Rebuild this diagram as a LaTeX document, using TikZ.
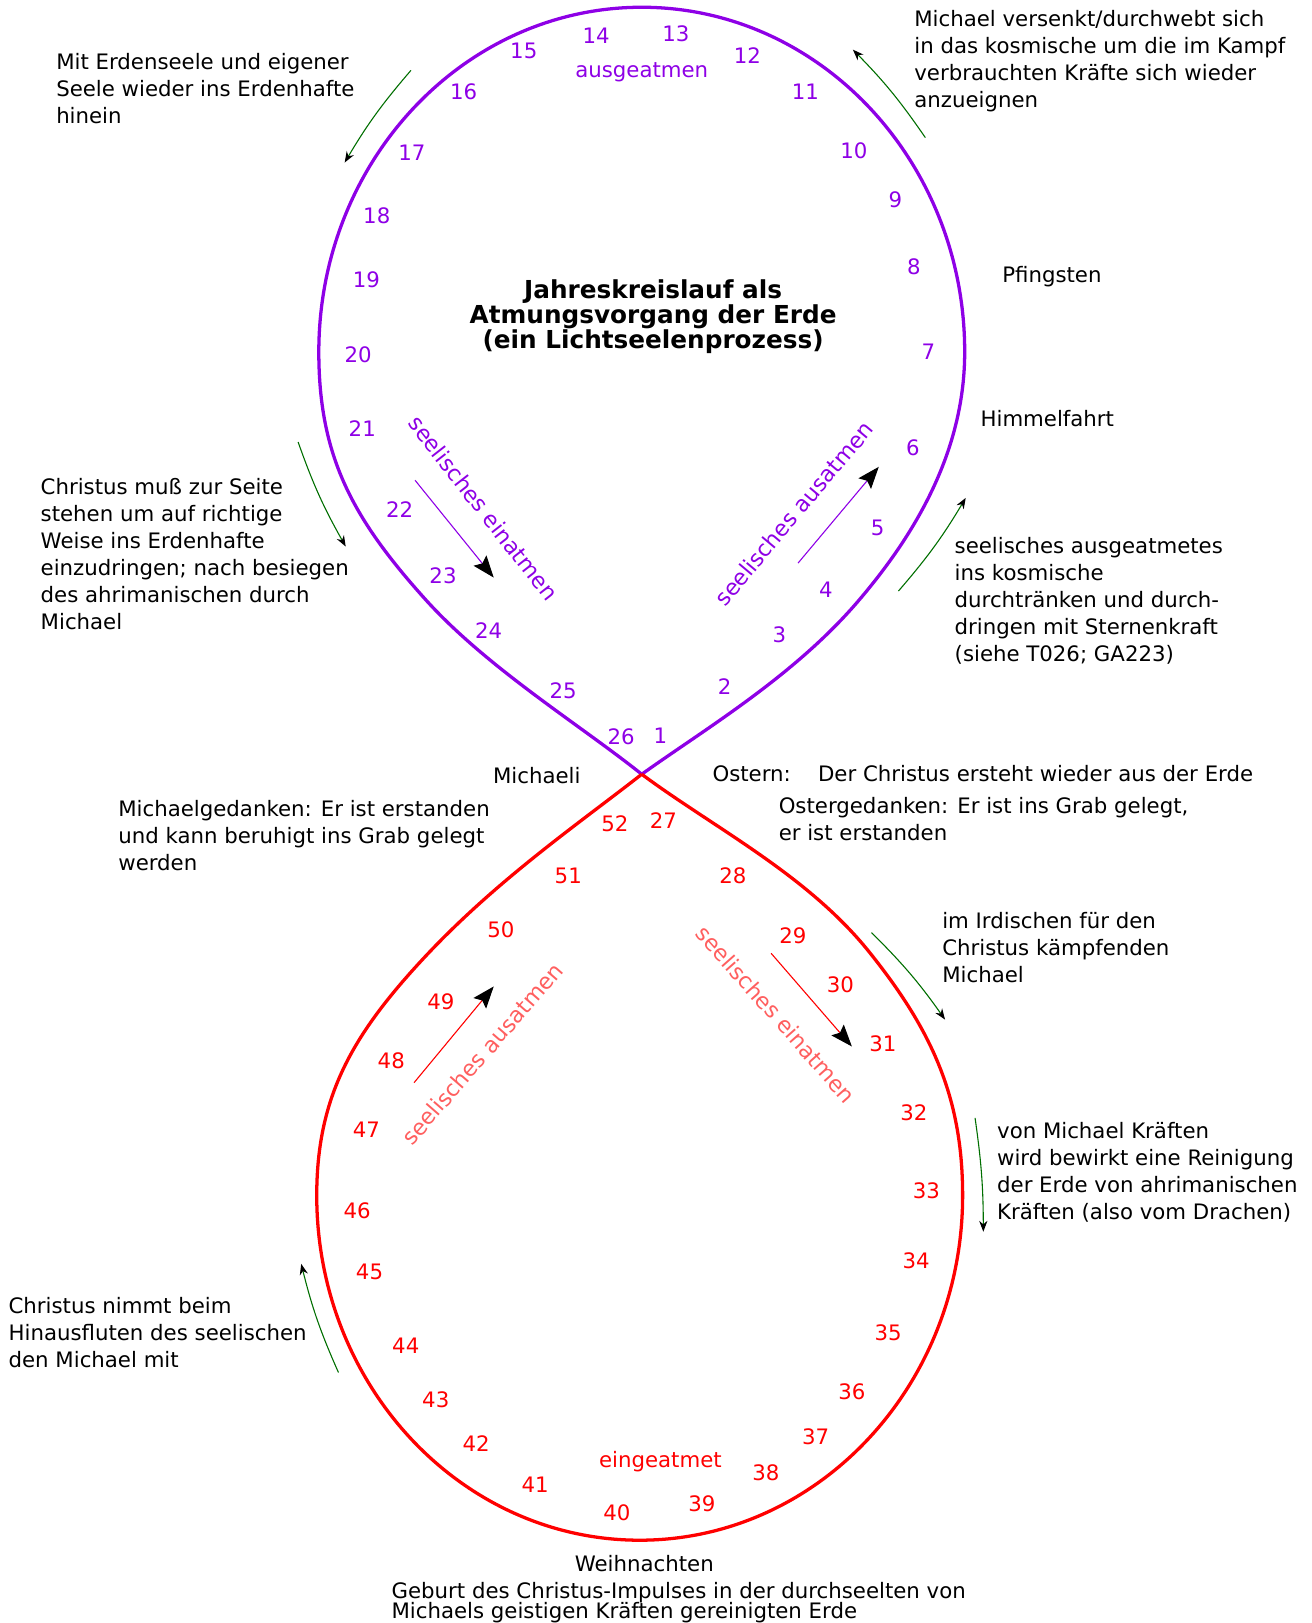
\documentclass[tikz,border=0pt]{standalone}
\usepackage{fontspec}
\setmainfont{DejaVu Sans}
\usetikzlibrary{arrows.meta}
\definecolor{loopviolet}{RGB}{142,0,230}
\definecolor{loopred}{RGB}{255,0,0}
\definecolor{softred}{RGB}{255,95,95}
\definecolor{turngreen}{RGB}{0,110,0}
\newcommand{\notefont}{\fontsize{11.7}{14.8}\selectfont}
\newcommand{\headfont}{\fontsize{13.6}{13.8}\selectfont\bfseries}
\newcommand{\breathfont}{\fontsize{12.2}{14}\selectfont}
\tikzset{
  note/.style={anchor=north west, inner sep=0pt, align=left, font=\notefont},
  daynum/.style={inner sep=0pt, font=\notefont},
  breath/.style={inner sep=0pt, font=\breathfont},
  loopline/.style={line width=1.8pt, line join=round},
  flow/.style={line width=0.6pt, -{Stealth[length=12pt, width=9pt, inset=2pt, color=black]}},
  turn/.style={turngreen, line width=0.6pt, -{Stealth[length=6pt, width=4.5pt, color=black]}}
}
\begin{document}
\begin{tikzpicture}[x=0.02cm, y=-0.02cm]
  \useasboundingbox (0,0) rectangle (1267,1568);
  \coordinate (cross) at (620,748);

  \draw[loopline, loopviolet] (cross) .. controls (680,705) and (766,654) .. (828,582)
    .. controls (890,510) and (932,430) .. (932,340)
    .. controls (932,156) and (792,7) .. (620,7)
    .. controls (448,7) and (308,156) .. (308,340)
    .. controls (308,440) and (340,500) .. (410,578)
    .. controls (470,645) and (560,700) .. (cross);
  \draw[loopline, loopred] (cross) .. controls (690,800) and (780,845) .. (840,920)
    .. controls (900,995) and (930,1060) .. (930,1155)
    .. controls (930,1339) and (790,1488) .. (618,1488)
    .. controls (446,1488) and (306,1339) .. (306,1155)
    .. controls (306,1060) and (340,1000) .. (410,925)
    .. controls (480,850) and (560,795) .. (cross);

  \foreach \n/\x/\y in {1/638/711, 2/700/663, 3/753/613, 4/798/570, 5/848/510,
    6/882/433, 7/897/340, 8/883/258, 9/865/193, 10/825/146, 11/778/89,
    12/722/54, 13/653/33, 14/576/35, 15/506/49, 16/448/89, 17/398/148,
    18/364/208, 19/354/270, 20/346/343, 21/350/414, 22/386/492, 23/428/556,
    24/472/609, 25/544/667, 26/600/712}
    \node[daynum, text=loopviolet] (n\n) at (\x,\y) {\n};
  \foreach \n/\x/\y in {27/641/793, 28/708/846, 29/766/904, 30/812/951,
    31/853/1008, 32/883/1075, 33/895/1150, 34/885/1218, 35/858/1288,
    36/823/1345, 37/788/1388, 38/740/1423, 39/678/1453, 40/596/1461,
    41/517/1434, 42/460/1395, 43/421/1352, 44/392/1300, 45/357/1229,
    46/345/1170, 47/354/1091, 48/378/1025, 49/426/968, 50/484/898,
    51/549/846, 52/594/796}
    \node[daynum, text=loopred] (n\n) at (\x,\y) {\n};

  \node[daynum, text=loopviolet] (outbreath) at (620,70) {ausgeatmen};
  \node[daynum, text=loopred] (inbreath) at (638,1412) {eingeatmet};
  \node[font=\headfont, align=center, inner sep=0pt] (title) at (631,306)
    {Jahreskreislauf als\\Atmungsvorgang der Erde\\(ein Lichtseelenprozess)};

  \node[breath, text=loopviolet, rotate=-52] (upin) at (467,491) {seelisches einatmen};
  \node[breath, text=loopviolet, rotate=50] (upout) at (767,496) {seelisches ausatmen};
  \node[breath, text=softred, rotate=49] (lowout) at (466,1018) {seelisches ausatmen};
  \node[breath, text=softred, rotate=-48.5] (lowin) at (750,980) {seelisches einatmen};

  \coordinate (a1s) at (401,464); \coordinate (a1e) at (477,558);
  \coordinate (a2s) at (771,544); \coordinate (a2e) at (849,451);
  \coordinate (a3s) at (400,1046); \coordinate (a3e) at (477,953);
  \coordinate (a4s) at (745,921); \coordinate (a4e) at (823,1011);
  \draw[flow, loopviolet] (a1s) -- (a1e);
  \draw[flow, loopviolet] (a2s) -- (a2e);
  \draw[flow, loopred] (a3s) -- (a3e);
  \draw[flow, loopred] (a4s) -- (a4e);

  \node[note] (earthsoul) at (54,51)
    {Mit Erdenseele und eigener\\Seele wieder ins Erdenhafte\\hinein};
  \node[note] (sinks) at (883,10)
    {Michael versenkt/durchwebt sich\\in das kosmische um die im Kampf\\verbrauchten Kräfte sich wieder\\anzueignen};
  \node[note] (pentecost) at (968,257) {Pfingsten};
  \node[note] (ascension) at (947,396) {Himmelfahrt};
  \node[note] (aside) at (39,462)
    {Christus muß zur Seite\\stehen um auf richtige\\Weise ins Erdenhafte\\einzudringen; nach besiegen\\des ahrimanischen durch\\Michael};
  \node[note] (starforce) at (922,519)
    {seelisches ausgeatmetes\\ins kosmische\\durchtränken und durch-\\dringen mit Sternenkraft\\(siehe T026; GA223)};
  \node[note] (michaeli) at (476,741) {Michaeli};
  \node[note] (easter) at (688,739) {Ostern:};
  \node[note] (risen) at (790,739) {Der Christus ersteht wieder aus der Erde};
  \node[note] (easterthought) at (752,770)
    {Ostergedanken: Er ist ins Grab gelegt,\\er ist erstanden};
  \node[note] (michaelthought) at (114,773)
    {Michaelgedanken: Er ist erstanden\\und kann beruhigt ins Grab gelegt\\werden};
  \node[note] (fighting) at (910,881)
    {im Irdischen für den\\Christus kämpfenden\\Michael};
  \node[note] (cleansing) at (963,1084)
    {von Michael Kräften\\wird bewirkt eine Reinigung\\der Erde von ahrimanischen\\Kräften (also vom Drachen)};
  \node[note] (outflow) at (8,1253)
    {Christus nimmt beim\\Hinausfluten des seelischen\\den Michael mit};
  \node[note] (christmas) at (555,1502) {Weihnachten};
  \node[note, font=\fontsize{11.7}{11.4}\selectfont] (birth) at (378,1528)
    {Geburt des Christus-Impulses in der durchseelten von\\Michaels geistigen Kräften gereinigten Erde};

  \coordinate (g1s) at (397,68); \coordinate (g1e) at (333,157);
  \coordinate (g2s) at (894,133); \coordinate (g2e) at (824,48);
  \coordinate (g3s) at (288,427); \coordinate (g3e) at (334,528);
  \coordinate (g4s) at (868,571); \coordinate (g4e) at (933,481);
  \coordinate (g5s) at (842,901); \coordinate (g5e) at (913,985);
  \coordinate (g6s) at (942,1080); \coordinate (g6e) at (950,1190);
  \coordinate (g7s) at (327,1326); \coordinate (g7e) at (291,1221);
  \draw[turn] (g1s) to[bend right=5] (g1e);
  \draw[turn] (g2s) to[bend right=5] (g2e);
  \draw[turn] (g3s) to[bend right=5] (g3e);
  \draw[turn] (g4s) to[bend right=5] (g4e);
  \draw[turn] (g5s) to[bend left=5] (g5e);
  \draw[turn] (g6s) to[bend left=4] (g6e);
  \draw[turn] (g7s) to[bend left=5] (g7e);
\end{tikzpicture}
\end{document}
